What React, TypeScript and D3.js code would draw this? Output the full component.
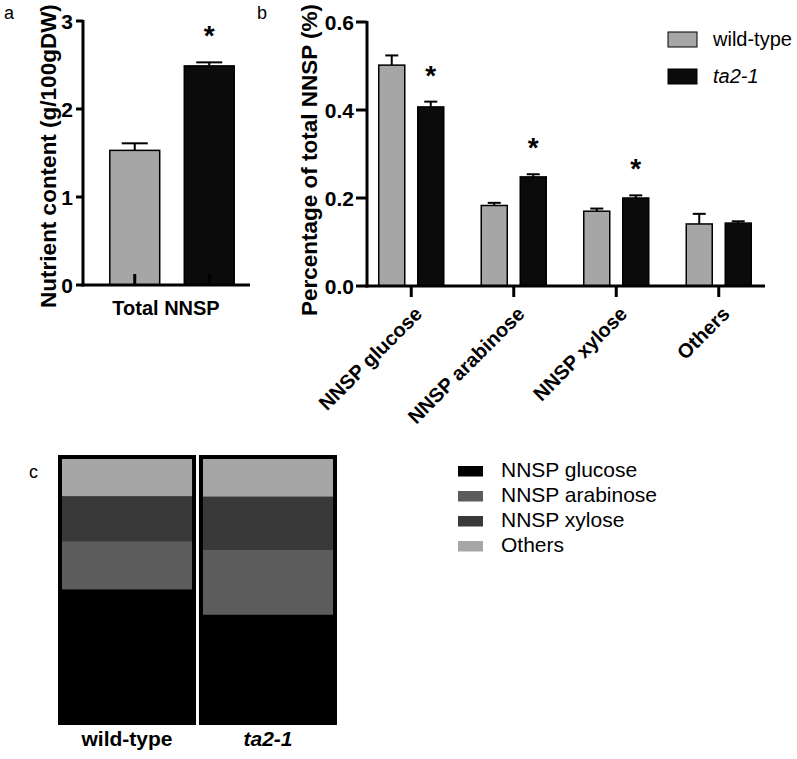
import * as d3 from "d3";

const groups = ["wild-type", "ta2-1"];
const totalNNSP = [1.53, 2.49];
const totalNNSPErr = [0.08, 0.04];

const sugars = ["NNSP glucose", "NNSP arabinose", "NNSP xylose", "Others"];
const wildType = [0.502, 0.183, 0.17, 0.141];
const wildTypeErr = [0.022, 0.006, 0.006, 0.023];
const ta21 = [0.407, 0.248, 0.2, 0.143];
const ta21Err = [0.012, 0.006, 0.006, 0.004];
const signif = [true, true, true, false];

const yTicksA = [0, 1, 2, 3];
const yTicksB = [0, 0.2, 0.4, 0.6];

const font = "Arial, 'Liberation Sans', sans-serif";
const gray = "#a6a6a6";
const dark = "#0b0b0b";
const stackColors = ["#000000", "#5c5c5c", "#393939", "#a6a6a6"];

export default function App() {
  // panel a
  const yA = d3.scaleLinear().domain([0, 3]).range([285, 21]);
  const xA = d3
    .scaleBand()
    .domain(groups)
    .range([97.5, 246.5])
    .paddingInner(0.33)
    .paddingOuter(0.165);

  // panel b
  const yB = d3.scaleLinear().domain([0, 0.6]).range([286, 22]);
  const xB = d3.scaleBand().domain(sugars).range([360, 770]);
  const xB1 = d3
    .scaleBand()
    .domain(groups)
    .range([-32.5, 32.5])
    .paddingInner(1 / 3);
  const seriesB = [
    { name: groups[0], vals: wildType, errs: wildTypeErr, fill: gray },
    { name: groups[1], vals: ta21, errs: ta21Err, fill: dark },
  ];

  // panel c
  const rows = groups.map((g, i) => {
    const v = i === 0 ? wildType : ta21;
    const sum = d3.sum(v);
    const r: any = { group: g };
    sugars.forEach((s, j) => (r[s] = v[j] / sum));
    return r;
  });
  const stacked = d3.stack().keys(sugars)(rows);
  const xC = d3.scaleBand().domain(groups).range([59, 336]).paddingInner(0.035);
  const yC = d3.scaleLinear().domain([0, 1]).range([722, 459]);

  return (
    <svg width={797} height={759} style={{ position: "absolute", left: 0, top: 0 }} fontFamily={font}>
      <rect width={797} height={759} fill="white" />

      {/* ---- a ---- */}
      <text x={4} y={19} fontSize={18}>a</text>
      <text
        transform="translate(56 156) rotate(-90)"
        textAnchor="middle"
        fontSize={22.5}
        fontWeight="bold"
      >
        Nutrient content (g/100gDW)
      </text>
      {yTicksA.map((t) => (
        <g key={t}>
          <line x1={76} x2={83} y1={yA(t)} y2={yA(t)} stroke="black" strokeWidth={3} />
          <text x={73} y={yA(t)} dy="0.36em" textAnchor="end" fontSize={21} fontWeight="bold">
            {t}
          </text>
        </g>
      ))}
      {groups.map((g, i) => {
        const x = xA(g)!;
        const w = xA.bandwidth();
        const cx = x + w / 2;
        const et = yA(totalNNSP[i] + totalNNSPErr[i]);
        return (
          <g key={g}>
            <rect
              x={x}
              y={yA(totalNNSP[i])}
              width={w}
              height={yA(0) - yA(totalNNSP[i])}
              fill={i === 0 ? gray : dark}
              stroke="black"
              strokeWidth={1.5}
            />
            <line x1={cx} x2={cx} y1={yA(totalNNSP[i])} y2={et} stroke="black" strokeWidth={2} />
            <line x1={cx - 13} x2={cx + 13} y1={et} y2={et} stroke="black" strokeWidth={2} />
            <line x1={cx} x2={cx} y1={yA(0)} y2={yA(0) - 11} stroke="black" strokeWidth={3} />
            {i === 1 && (
              <text x={cx} y={et - 17} textAnchor="middle" fontSize={28} fontWeight="bold">
                *
              </text>
            )}
          </g>
        );
      })}
      <line x1={83} x2={83} y1={yA(3) - 1} y2={yA(0) + 1.5} stroke="black" strokeWidth={3} />
      <line x1={81.5} x2={250} y1={yA(0)} y2={yA(0)} stroke="black" strokeWidth={3} />
      <text x={166} y={315} textAnchor="middle" fontSize={20} fontWeight="bold">
        Total NNSP
      </text>

      {/* ---- b ---- */}
      <text x={257} y={19} fontSize={18}>b</text>
      <text
        transform="translate(317 160) rotate(-90)"
        textAnchor="middle"
        fontSize={22.5}
        fontWeight="bold"
      >
        Percentage of total NNSP (%)
      </text>
      {yTicksB.map((t) => (
        <g key={t}>
          <line x1={356} x2={367} y1={yB(t)} y2={yB(t)} stroke="black" strokeWidth={3} />
          <text x={354} y={yB(t)} dy="0.36em" textAnchor="end" fontSize={21} fontWeight="bold">
            {t.toFixed(1)}
          </text>
        </g>
      ))}
      {sugars.map((s, j) => {
        const gx = xB(s)! + xB.bandwidth() / 2;
        return (
          <g key={s}>
            {seriesB.map((ser) => {
              const x = gx + xB1(ser.name)!;
              const w = xB1.bandwidth();
              const cx = x + w / 2;
              const top = yB(ser.vals[j]);
              const et = yB(ser.vals[j] + ser.errs[j]);
              return (
                <g key={ser.name}>
                  <rect x={x} y={top} width={w} height={yB(0) - top} fill={ser.fill} stroke="black" strokeWidth={1.5} />
                  <line x1={cx} x2={cx} y1={top} y2={et} stroke="black" strokeWidth={2} />
                  <line x1={cx - 6.5} x2={cx + 6.5} y1={et} y2={et} stroke="black" strokeWidth={2} />
                </g>
              );
            })}
            {signif[j] && (
              <text
                x={gx + xB1(groups[1])! + xB1.bandwidth() / 2}
                y={yB(ta21[j] + ta21Err[j]) - 17}
                textAnchor="middle"
                fontSize={28}
                fontWeight="bold"
              >
                *
              </text>
            )}
            <line x1={gx} x2={gx} y1={yB(0)} y2={yB(0) + 11} stroke="black" strokeWidth={3} />
            <text
              transform={`translate(${gx + 2} 305) rotate(-45)`}
              textAnchor="end"
              dy="0.72em"
              fontSize={20}
              fontWeight="bold"
            >
              {s}
            </text>
          </g>
        );
      })}
      <line x1={367} x2={367} y1={yB(0.6) - 1} y2={yB(0) + 1.5} stroke="black" strokeWidth={3} />
      <line x1={365.5} x2={765} y1={yB(0)} y2={yB(0)} stroke="black" strokeWidth={3} />

      {/* legend b */}
      {seriesB.map((ser, i) => (
        <g key={ser.name}>
          <rect x={668} y={32 + i * 37} width={29} height={15} fill={ser.fill} stroke="black" strokeWidth={1} />
          <text x={713} y={46 + i * 37} fontSize={20} fontStyle={i === 1 ? "italic" : "normal"}>
            {ser.name}
          </text>
        </g>
      ))}

      {/* ---- c ---- */}
      <text x={29} y={478} fontSize={18}>c</text>
      {groups.map((g) => (
        <rect key={g} x={xC(g)!} y={456} width={xC.bandwidth()} height={268} fill="black" stroke="black" strokeWidth={2} />
      ))}
      {stacked.map((layer, k) => (
        <g key={layer.key} fill={stackColors[k]}>
          {layer.map((d, i) => (
            <rect
              key={i}
              x={xC(groups[i])! + 3}
              y={yC(d[1])}
              width={xC.bandwidth() - 6}
              height={yC(d[0]) - yC(d[1])}
            />
          ))}
        </g>
      ))}
      {groups.map((g, i) => (
        <text
          key={g}
          x={xC(g)! + xC.bandwidth() / 2}
          y={746}
          textAnchor="middle"
          fontSize={21}
          fontWeight="bold"
          fontStyle={i === 1 ? "italic" : "normal"}
        >
          {g}
        </text>
      ))}

      {/* legend c */}
      {sugars.map((s, k) => (
        <g key={s}>
          <rect x={458} y={466 + k * 25} width={25} height={10.5} fill={stackColors[k]} />
          <text x={501} y={477 + k * 25} fontSize={21}>
            {s}
          </text>
        </g>
      ))}
    </svg>
  );
}
